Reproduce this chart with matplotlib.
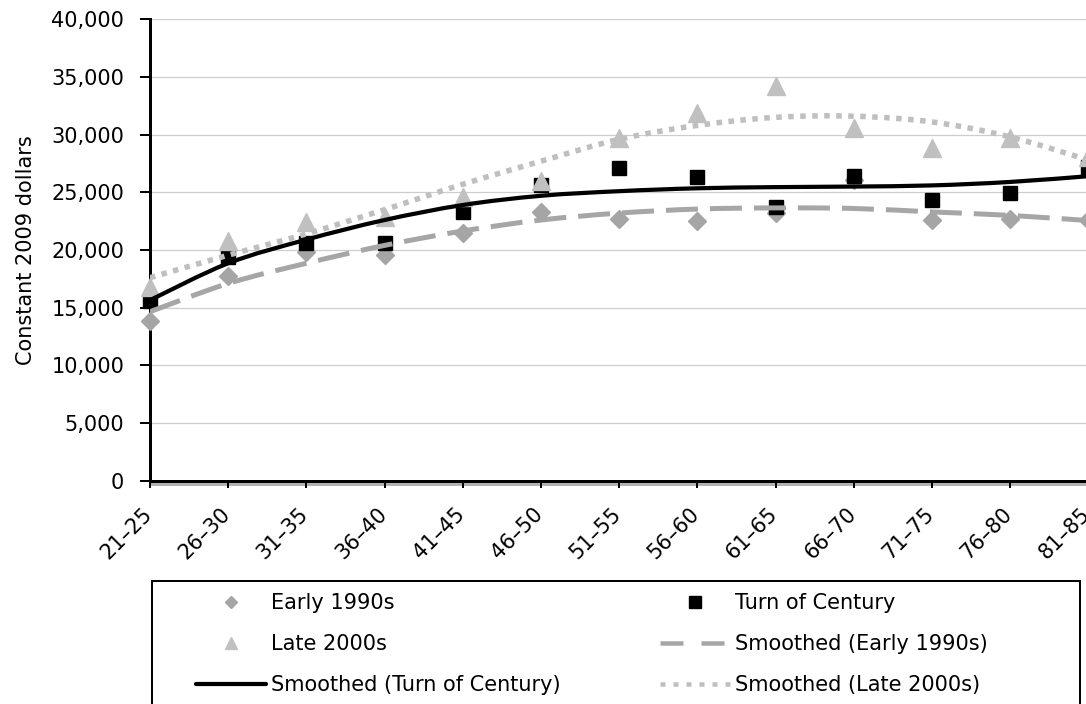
import matplotlib
matplotlib.use('Agg')
import matplotlib.pyplot as plt
from matplotlib.path import Path
from matplotlib.patches import PathPatch, Rectangle
from matplotlib.lines import Line2D
import matplotlib.patheffects as pe
from matplotlib.transforms import ScaledTranslation

plt.rcParams['font.family'] = ['DejaVu Sans']
plt.rcParams['lines.scale_dashes'] = False

# ---------------- data ----------------
categories = ['21–25', '26–30', '31–35', '36–40', '41–45', '46–50', '51–55',
              '56–60', '61–65', '66–70', '71–75', '76–80', '81–85']
early_1990s = [13850, 17750, 19800, 19600, 21500, 23300, 22700, 22500, 23200,
               26100, 22600, 22650, 22600]
turn_of_century = [15550, 19400, 20600, 20600, 23300, 25600, 27100, 26350, 23700,
                   26450, 24300, 24900, 27200]
late_2000s = [16800, 20800, 22400, 22900, 24600, 26000, 29700, 31900, 34200,
              30600, 28800, 29700, 28100]
smoothed_early_1990s = [14650, 17100, 18850, 20400, 21650, 22600, 23200, 23550,
                        23650, 23600, 23300, 23000, 22550]
smoothed_turn_of_century = [15650, 18850, 20900, 22600, 23900, 24700, 25100, 25350,
                            25450, 25500, 25600, 25900, 26400]
smoothed_late_2000s = [17600, 19550, 21400, 23500, 25700, 27700, 29600, 30800,
                       31500, 31600, 31100, 29800, 27800]
y_ticks = [0, 5000, 10000, 15000, 20000, 25000, 30000, 35000, 40000]
y_label = 'Constant 2009 dollars'

# ---------------- figure ----------------
W, H = 1086, 704
DPI = 100
PX = 72.0 / DPI          # points per pixel
FS = 15.0                # font size (pt)

fig = plt.figure(figsize=(W / DPI, H / DPI), dpi=DPI)
ax_l, ax_r, ax_t, ax_b = 150, 1088.4, 19.3, 480.7
ax = fig.add_axes([ax_l / W, 1 - ax_b / H, (ax_r - ax_l) / W, (ax_b - ax_t) / H])

x = list(range(len(categories)))

C_DIAMOND = '#A5A5A5'
C_TRI = '#C0C0C0'
C_DASH = '#A6A6A6'
C_DOT = '#BFBFBF'

ax.plot(x, early_1990s, linestyle='none', marker='D', ms=9.2, color=C_DIAMOND,
        mec=C_DIAMOND, clip_on=False, zorder=3)
ax.plot(x, turn_of_century, linestyle='none', marker='s', ms=9.6, color='black',
        clip_on=False, zorder=3)
ax.plot(x, late_2000s, linestyle='none', marker='^', ms=13, color=C_TRI,
        mec=C_TRI, clip_on=False, zorder=3)


def smooth_path(xs, ys):
    pts = list(zip(xs, ys))
    n = len(pts)
    verts = [pts[0]]
    codes = [Path.MOVETO]
    for i in range(n - 1):
        p0 = pts[i - 1] if i > 0 else pts[i]
        p1 = pts[i]
        p2 = pts[i + 1]
        p3 = pts[i + 2] if i + 2 < n else pts[i + 1]
        c1 = (p1[0] + (p2[0] - p0[0]) / 6.0, p1[1] + (p2[1] - p0[1]) / 6.0)
        c2 = (p2[0] - (p3[0] - p1[0]) / 6.0, p2[1] - (p3[1] - p1[1]) / 6.0)
        verts += [c1, c2, p2]
        codes += [Path.CURVE4] * 3
    return Path(verts, codes)


dash_style = (0, (32 * PX, 12 * PX))
dot_style = (0, (5.5 * PX, 6.5 * PX))

styles = [
    (smoothed_early_1990s, C_DASH, 5.0 * PX, dash_style),
    (smoothed_turn_of_century, 'black', 4.2 * PX, '-'),
    (smoothed_late_2000s, C_DOT, 5.5 * PX, dot_style),
]
for ys, col, lw, ls in styles:
    patch = PathPatch(smooth_path(x, ys), fill=False, edgecolor=col, lw=lw,
                      linestyle=ls, capstyle='butt', joinstyle='round',
                      transform=ax.transData, zorder=4)
    ax.add_patch(patch)

# ---------------- axes styling ----------------
ax.set_xlim(0, len(categories) - 1)
ax.set_ylim(0, 40000)
ax.set_yticks(y_ticks)
ax.set_yticklabels([f'{v:,}' for v in y_ticks])
ax.set_xticks(x)
ax.set_xticklabels(categories)

for s in ['top', 'right']:
    ax.spines[s].set_visible(False)
for s in ['left', 'bottom']:
    ax.spines[s].set_linewidth(3 * PX)
    ax.spines[s].set_color('black')
ax.spines['bottom'].set_path_effects([
    pe.SimpleLineShadow(offset=(1.0, -2.5), shadow_color='black', alpha=0.3),
    pe.Normal()])

ax.yaxis.grid(True, color='#CDCDCD', lw=1.2 * PX)
ax.set_axisbelow(True)

ax.tick_params(axis='y', direction='out', length=10 * PX, width=2 * PX,
               pad=15.7 * PX, labelsize=FS, colors='black')
ax.tick_params(axis='x', direction='out', length=7 * PX, width=2 * PX,
               pad=23 * PX, labelsize=FS, colors='black')
off = ScaledTranslation(-1 / DPI, 0, fig.dpi_scale_trans)
for lab in ax.get_xticklabels():
    lab.set_rotation(45)
    lab.set_rotation_mode('anchor')
    lab.set_ha('right')
    lab.set_va('center')
    lab.set_transform(lab.get_transform() + off)

ax.set_ylabel(y_label, fontsize=FS)
ax.yaxis.set_label_coords((36.5 - ax_l) / (ax_r - ax_l), 0.5)

# ---------------- legend ----------------
handles = [
    Line2D([], [], linestyle='none', marker='D', ms=6.5, color=C_DIAMOND),
    Line2D([], [], linestyle='none', marker='^', ms=9, color=C_TRI),
    Line2D([], [], color='black', lw=4.2 * PX, solid_capstyle='round'),
    Line2D([], [], linestyle='none', marker='s', ms=8.5, color='black'),
    Line2D([], [], color=C_DASH, lw=4.5 * PX, linestyle=(0, (23 * PX, 18 * PX)),
           dash_capstyle='butt'),
    Line2D([], [], color=C_DOT, lw=4.5 * PX, linestyle=(0, (5 * PX, 8 * PX)),
           dash_capstyle='butt'),
]
labels = ['Early 1990s', 'Late 2000s', 'Smoothed (Turn of Century)',
          'Turn of Century', 'Smoothed (Early 1990s)', 'Smoothed (Late 2000s)']

FSPX = FS / PX
HL = 70.0 / FSPX
HTP = 5.0 / FSPX


def make_legend(anchor, colsp, labsp):
    return fig.legend(handles, labels, ncol=2, loc='upper left',
                      bbox_to_anchor=anchor, bbox_transform=fig.transFigure,
                      frameon=False, borderpad=0, borderaxespad=0,
                      handlelength=HL, handletextpad=HTP, columnspacing=colsp,
                      labelspacing=labsp, fontsize=FS)


anchor = [195 / W, 1 - 588 / H]
colsp, labsp = 2.0, 0.6
target_x0, target_y0, target_dy, target_x2 = 271.0, 603.0, 41.0, 735.0
for _ in range(3):
    leg = make_legend(tuple(anchor), colsp, labsp)
    fig.canvas.draw()
    r = fig.canvas.get_renderer()
    bbs = [t.get_window_extent(r) for t in leg.get_texts()]
    x0 = bbs[0].x0
    y0 = H - (bbs[0].y0 + bbs[0].y1) / 2
    y1 = H - (bbs[1].y0 + bbs[1].y1) / 2
    x2 = bbs[3].x0
    leg.remove()
    labsp += (target_dy - (y1 - y0)) / FSPX
    colsp += (target_x2 - target_x0 - (x2 - x0)) / FSPX
    anchor[0] += (target_x0 - x0) / W
    anchor[1] -= (target_y0 - y0) / H
leg = make_legend(tuple(anchor), colsp, labsp)

box = Rectangle((151.7 / W, -0.1), (1080 - 151.7) / W, (1 - 581 / H) + 0.1,
                transform=fig.transFigure, fill=False, edgecolor='black',
                lw=2 * PX, zorder=1)
fig.add_artist(box)

fig.savefig('out.png', dpi=DPI)
